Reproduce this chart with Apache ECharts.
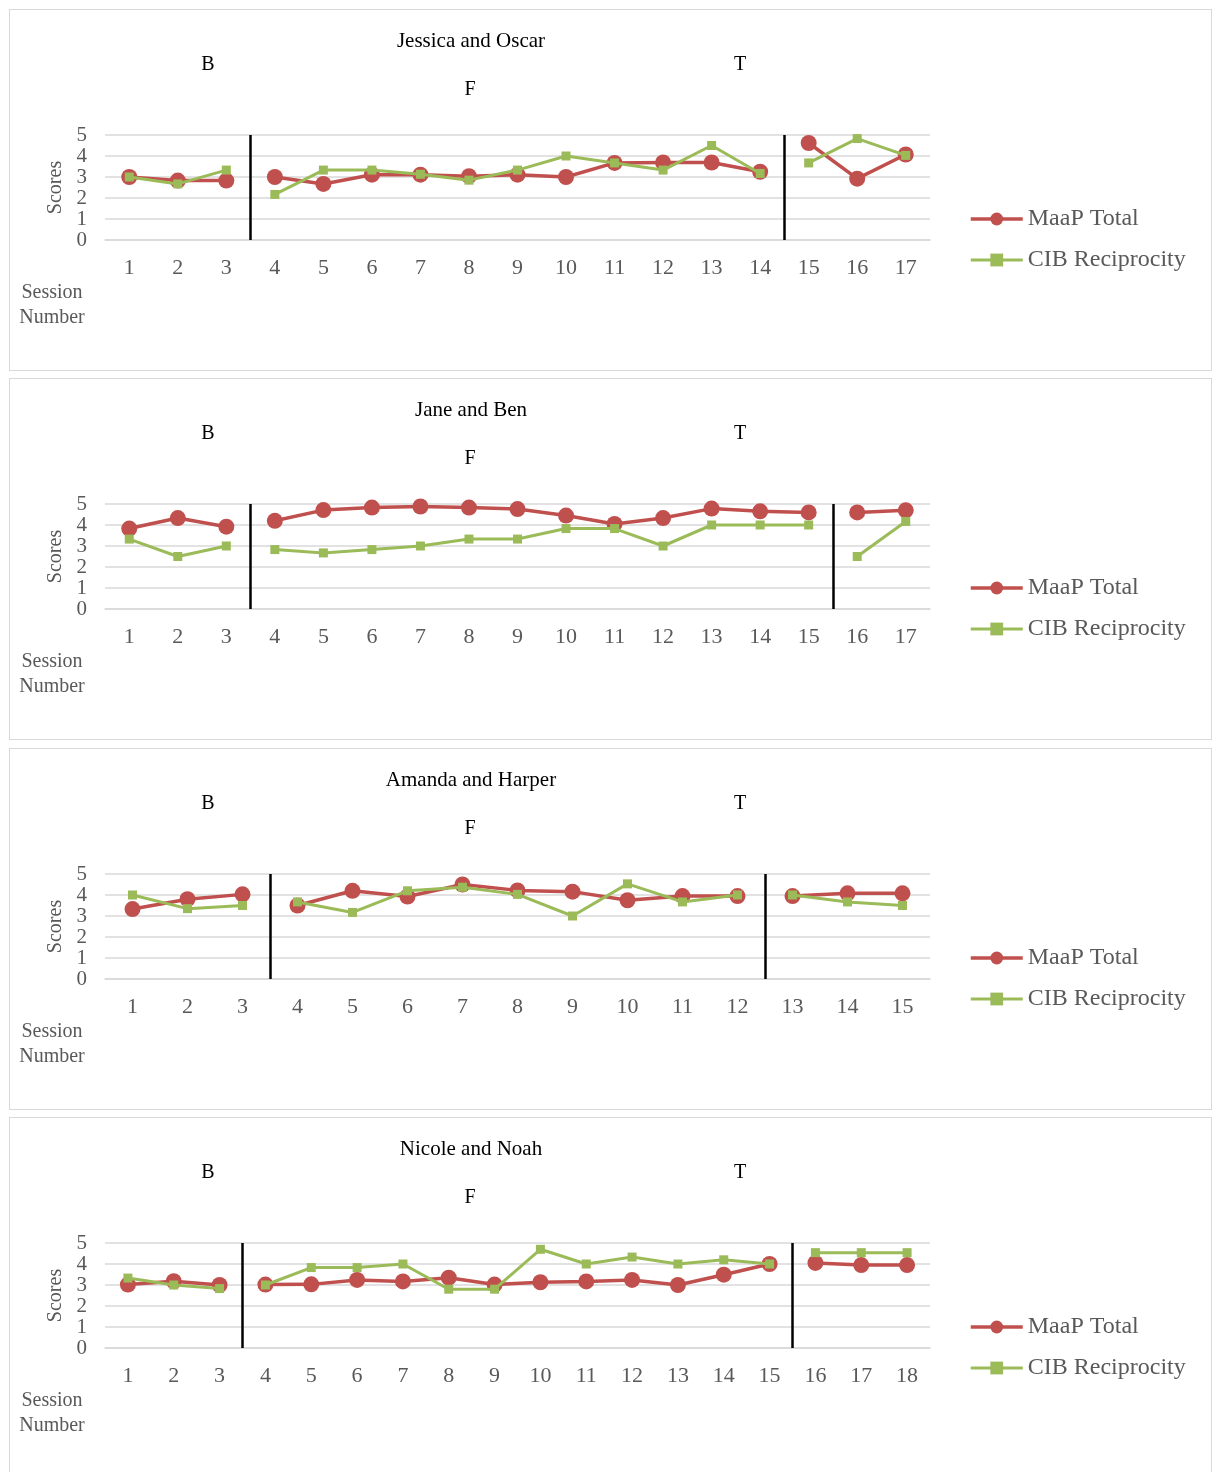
<!DOCTYPE html>
<html>
<head>
<meta charset="utf-8">
<script src="https://cdn.jsdelivr.net/npm/echarts@6/dist/echarts.min.js"></script>
<style>
  html, body { margin: 0; padding: 0; background: #fff; width: 1217px; height: 1472px; overflow: hidden; }
  .panel { position: absolute; left: 9px; width: 1203px; height: 362px; border: 1px solid #d9d9d9; box-sizing: border-box; background: #fff; }
</style>
</head>
<body>
<div id="p1" class="panel" style="top:9px"></div>
<div id="p2" class="panel" style="top:378px"></div>
<div id="p3" class="panel" style="top:748px"></div>
<div id="p4" class="panel" style="top:1117px"></div>
<script>
// Jessica and Oscar
const joSessions = [1, 2, 3, 4, 5, 6, 7, 8, 9, 10, 11, 12, 13, 14, 15, 16, 17];
const joMaap = [3.0, 2.83, 2.83, 3.0, 2.67, 3.11, 3.11, 3.04, 3.11, 3.0, 3.67, 3.69, 3.69, 3.25, 4.62, 2.92, 4.07];
const joCib  = [3.0, 2.67, 3.33, 2.17, 3.33, 3.33, 3.13, 2.85, 3.33, 4.0, 3.67, 3.33, 4.5, 3.17, 3.67, 4.83, 4.03];
const joBreaks = [3, 14];

// Jane and Ben
const jbSessions = [1, 2, 3, 4, 5, 6, 7, 8, 9, 10, 11, 12, 13, 14, 15, 16, 17];
const jbMaap = [3.83, 4.33, 3.92, 4.2, 4.71, 4.83, 4.88, 4.83, 4.76, 4.45, 4.05, 4.33, 4.78, 4.65, 4.6, 4.6, 4.7];
const jbCib  = [3.33, 2.5, 3.0, 2.83, 2.67, 2.83, 3.0, 3.33, 3.33, 3.83, 3.83, 3.0, 4.0, 4.0, 4.0, 2.5, 4.17];
const jbBreaks = [3, 15];

// Amanda and Harper
const ahSessions = [1, 2, 3, 4, 5, 6, 7, 8, 9, 10, 11, 12, 13, 14, 15];
const ahMaap = [3.33, 3.8, 4.03, 3.5, 4.2, 3.93, 4.5, 4.22, 4.16, 3.75, 3.95, 3.95, 3.95, 4.08, 4.08];
const ahCib  = [4.0, 3.35, 3.5, 3.67, 3.17, 4.2, 4.37, 4.03, 3.0, 4.53, 3.67, 4.0, 4.0, 3.67, 3.5];
const ahBreaks = [3, 12];

// Nicole and Noah
const nnSessions = [1, 2, 3, 4, 5, 6, 7, 8, 9, 10, 11, 12, 13, 14, 15, 16, 17, 18];
const nnMaap = [3.02, 3.18, 3.0, 3.02, 3.03, 3.24, 3.17, 3.35, 3.02, 3.13, 3.17, 3.24, 3.0, 3.49, 4.0, 4.05, 3.95, 3.95];
const nnCib  = [3.33, 3.0, 2.83, 3.0, 3.83, 3.83, 4.0, 2.8, 2.8, 4.7, 4.0, 4.33, 4.0, 4.2, 4.0, 4.54, 4.54, 4.54];
const nnBreaks = [3, 15];

const RED = '#C0504D';
const GREEN = '#9BBB59';
const GRAY_TEXT = '#595959';
const GRID_LINE = '#d9d9d9';
const SERIF = '"Liberation Serif", "Times New Roman", serif';

// keep only the values of one phase, blank elsewhere so phases are not joined
function phaseSlice(values, start, end) {
  return values.map((v, i) => (i >= start && i < end ? v : '-'));
}

function label(text, x, y, color, size) {
  return {
    type: 'text', x: x, y: y, silent: true,
    style: { text: text, font: (size || 20) + 'px ' + SERIF, fill: color, align: 'center', verticalAlign: 'middle' }
  };
}

function buildPanel(domId, title, sessions, maap, cib, breaks) {
  const chart = echarts.init(document.getElementById(domId), null, { renderer: 'canvas' });
  const n = sessions.length;
  const bounds = [0].concat(breaks, [n]);
  const series = [];

  for (let p = 0; p < bounds.length - 1; p++) {
    series.push({
      name: 'MaaP Total', type: 'line', xAxisIndex: 0, yAxisIndex: 0,
      data: phaseSlice(maap, bounds[p], bounds[p + 1]),
      symbol: 'circle', symbolSize: 16,
      itemStyle: { color: RED },
      lineStyle: { color: RED, width: 3.5 },
      z: 2
    });
  }
  for (let p = 0; p < bounds.length - 1; p++) {
    series.push({
      name: 'CIB Reciprocity', type: 'line', xAxisIndex: 0, yAxisIndex: 0,
      data: phaseSlice(cib, bounds[p], bounds[p + 1]),
      symbol: 'rect', symbolSize: 9,
      itemStyle: { color: GREEN },
      lineStyle: { color: GREEN, width: 3 },
      z: 3
    });
  }
  // phase change lines
  series.push({
    type: 'scatter', xAxisIndex: 1, yAxisIndex: 0, data: [], silent: true,
    markLine: {
      silent: true, symbol: ['none', 'none'], animation: false,
      label: { show: false },
      lineStyle: { color: '#000', width: 2.5, type: 'solid' },
      data: breaks.map(b => ({ xAxis: b }))
    },
    z: 1
  });

  chart.setOption({
    animation: false,
    backgroundColor: '#fff',
    textStyle: { fontFamily: SERIF },
    grid: { left: 95, top: 125, width: 825, height: 105, containLabel: false },
    legend: {
      data: [
        { name: 'MaaP Total', lineStyle: { color: RED, width: 3.5 }, itemStyle: { color: RED } },
        { name: 'CIB Reciprocity', lineStyle: { color: GREEN, width: 3 }, itemStyle: { color: GREEN } }
      ],
      orient: 'vertical', left: 954, top: 192,
      itemWidth: 52, itemHeight: 16, itemGap: 17,
      textStyle: { fontFamily: SERIF, fontSize: 24, color: GRAY_TEXT },
      selectedMode: false
    },
    xAxis: [
      {
        type: 'category', data: sessions, boundaryGap: true,
        axisLine: { show: true, lineStyle: { color: GRID_LINE, width: 1.5 } },
        axisTick: { show: false },
        axisLabel: { fontFamily: SERIF, fontSize: 22, color: GRAY_TEXT, margin: 17 },
        splitLine: { show: false }
      },
      { type: 'value', min: 0, max: n, show: false }
    ],
    yAxis: {
      type: 'value', min: 0, max: 5, interval: 1,
      name: 'Scores', nameLocation: 'middle', nameRotate: 90, nameGap: 39,
      nameTextStyle: { fontFamily: SERIF, fontSize: 20, color: GRAY_TEXT },
      axisLine: { show: false }, axisTick: { show: false },
      axisLabel: { fontFamily: SERIF, fontSize: 21, color: GRAY_TEXT, margin: 18, lineHeight: 20 },
      splitLine: { lineStyle: { color: GRID_LINE, width: 1.5 } }
    },
    graphic: [
      label(title, 461, 31, '#000', 21),
      label('B', 198, 55, '#000'),
      label('T', 730, 55, '#000'),
      label('F', 460, 80, '#000'),
      label('Session', 42, 283, GRAY_TEXT),
      label('Number', 42, 308, GRAY_TEXT)
    ],
    series: series
  });
  return chart;
}

buildPanel('p1', 'Jessica and Oscar', joSessions, joMaap, joCib, joBreaks);
buildPanel('p2', 'Jane and Ben', jbSessions, jbMaap, jbCib, jbBreaks);
buildPanel('p3', 'Amanda and Harper', ahSessions, ahMaap, ahCib, ahBreaks);
buildPanel('p4', 'Nicole and Noah', nnSessions, nnMaap, nnCib, nnBreaks);
</script>
</body>
</html>
